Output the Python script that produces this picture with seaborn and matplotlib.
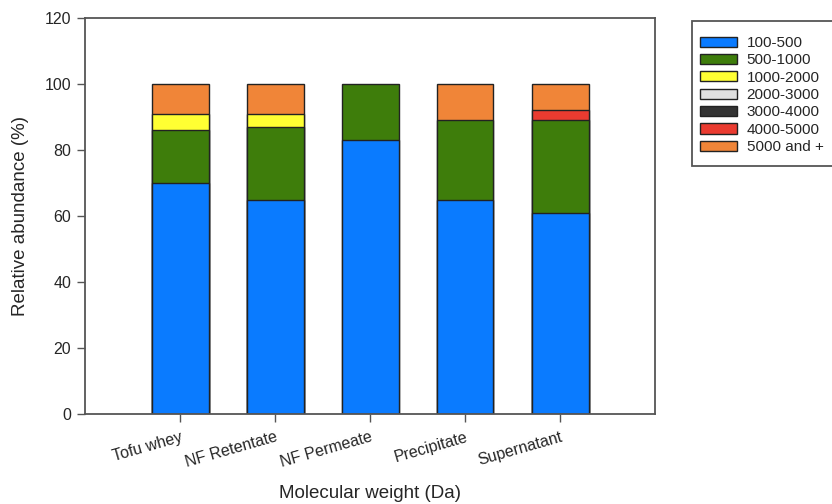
import numpy as np
import pandas as pd
import matplotlib
matplotlib.use("Agg")
import matplotlib.pyplot as plt
import seaborn as sns
from matplotlib.patches import Patch, Rectangle

categories = ["Tofu whey", "NF Retentate", "NF Permeate", "Precipitate", "Supernatant"]
ranges = ["100-500", "500-1000", "1000-2000", "2000-3000", "3000-4000", "4000-5000", "5000 and +"]
v_100_500 = [70, 65, 83, 65, 61]
v_500_1000 = [16, 22, 17, 24, 28]
v_1000_2000 = [5, 4, 0, 0, 0]
v_2000_3000 = [0, 0, 0, 0, 0]
v_3000_4000 = [0, 0, 0, 0, 0]
v_4000_5000 = [0, 0, 0, 0, 3]
v_5000_plus = [9, 9, 0, 11, 8]
colors = ["#0A7BFF", "#3E7D0B", "#FFFF33", "#E0E0E0", "#333333", "#EA3B30", "#F08538"]

series = [v_100_500, v_500_1000, v_1000_2000, v_2000_3000, v_3000_4000, v_4000_5000, v_5000_plus]

sns.set_style("white")
plt.rcParams['font.family'] = ['Liberation Sans', 'DejaVu Sans']

fig = plt.figure(figsize=(8.32, 5.04), dpi=100)
ax = fig.add_axes([85/832, 1 - 414/504, (655-85)/832, (414-18)/504])

cum = np.cumsum(np.array(series, dtype=float), axis=0)
# draw from top layer down so lower segments sit over the cumulative bars
for i in range(len(series) - 1, -1, -1):
    vals = np.array(series[i], dtype=float)
    top = cum[i]
    df = pd.DataFrame({"cat": categories, "top": np.where(vals > 0, top, 0.0)})
    sns.barplot(data=df, x="cat", y="top", order=categories, color=colors[i],
                saturation=1, width=0.6, edgecolor="#222222", linewidth=1.0, ax=ax)

ax.set_xlim(-1, 5)
ax.set_ylim(0, 120)
ax.set_yticks(np.arange(0, 121, 20))
ax.set_xticks(range(len(categories)))
ax.set_xticklabels(categories, rotation=16, ha="right", rotation_mode="anchor", fontsize=11.5)
ax.tick_params(axis="y", labelsize=11.5, direction="out", length=6, width=1, left=True,
               color="#555555", pad=4)
ax.tick_params(axis="x", direction="out", length=6, width=1, bottom=True, color="#555555", pad=5)
for s in ax.spines.values():
    s.set_color("#555555")
    s.set_linewidth(1.3)
ax.set_xlabel("Molecular weight (Da)", fontsize=13.5, va="center")
ax.xaxis.set_label_coords(0.5, -(493 - 414) / 396)
ax.set_ylabel("Relative abundance (%)", fontsize=13.5, va="center")
ax.yaxis.set_label_coords((21 - 85) / 570, 0.5)

# legend frame
fig.patches.append(Rectangle((692/832, 1 - 166/504), (845-692)/832, (166-21)/504,
                             transform=fig.transFigure, facecolor="white",
                             edgecolor="#555555", linewidth=1.3, zorder=0))
handles = [Patch(facecolor=c, edgecolor="#222222", linewidth=1.0, label=r) for c, r in zip(colors, ranges)]
leg = fig.legend(handles=handles, loc="upper left", bbox_to_anchor=(700/832, 1 - 36/504),
                 frameon=False, fontsize=11,
                 handlelength=2.4, handleheight=0.65, handletextpad=0.65, labelspacing=0.22,
                 borderpad=0, borderaxespad=0)

fig.savefig("out.png", dpi=100)
